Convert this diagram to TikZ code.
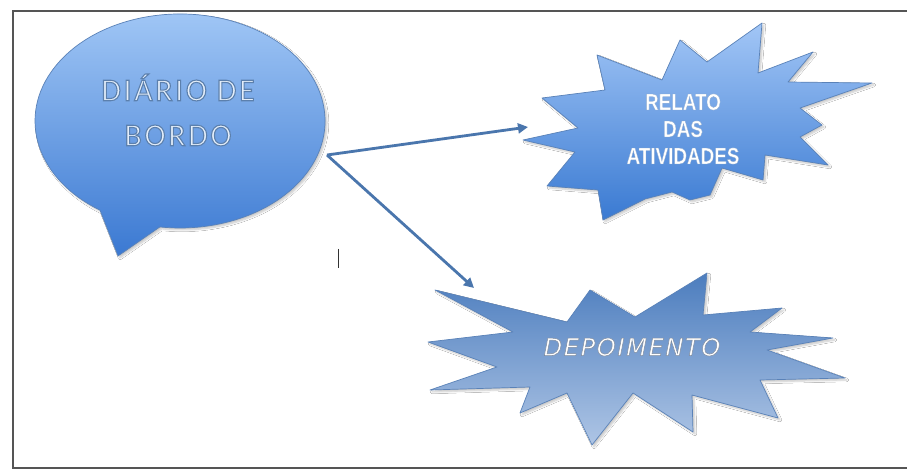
\documentclass[tikz,border=0pt]{standalone}
\usepackage{fontspec}
\usetikzlibrary{arrows.meta,shadows.blur}
\newfontfamily\diariofont[LetterSpace=8]{Carlito}
\newfontfamily\relatofont[FakeStretch=0.82,FakeBold=1.2]{Liberation Sans}
\newfontfamily\depofont[LetterSpace=7]{DejaVu Sans}
\definecolor{bubtop}{HTML}{A5CAF7}
\definecolor{bubbot}{HTML}{3B79D2}
\definecolor{s1top}{HTML}{A2C6F6}
\definecolor{s1bot}{HTML}{3A7AD2}
\definecolor{s2top}{HTML}{4C7DBE}
\definecolor{s2bot}{HTML}{AEC5E5}
\definecolor{edgeblue}{HTML}{5A82B8}
\definecolor{arrowblue}{HTML}{4A76AD}
\definecolor{framegray}{HTML}{555555}
\definecolor{txtlight}{HTML}{E4EEFA}
\newcommand\strokedtext[3]{\special{pdf:literal direct 2 Tr #2 w #3 RG}#1\special{pdf:literal direct 0 Tr}}
\tikzset{
  shapeedge/.style={draw=edgeblue, line width=0.7pt, line join=round},
  softshadow/.style={blur shadow={shadow xshift=2pt, shadow yshift=-2pt, shadow opacity=22, shadow blur steps=6}},
  link/.style={draw=arrowblue, line width=2.8pt, -{Triangle[length=10pt,width=10pt]}},
}
\begin{document}
\begin{tikzpicture}[x=1pt,y=-1pt]
\useasboundingbox (0,0) rectangle (907,470);
\fill[white] (0,0) rectangle (907,470);
% frame
\draw[framegray, line width=1.6pt] (907,11) -- (13,11) -- (13,468) -- (907,468);
% speech bubble
\path[shapeedge, softshadow, top color=bubtop, bottom color=bubbot]
  (100,210.2) arc[start angle=123.5, end angle=458, x radius=145, y radius=107]
  -- (118,256) -- cycle;
\node[font=\diariofont\fontsize{32}{45}\selectfont, text=txtlight, align=center] (diario) at (178,110)
  {\strokedtext{DIÁRIO DE}{1.1}{0.36 0.50 0.68}\\\strokedtext{BORDO}{1.1}{0.36 0.50 0.68}};
% star 1
\path[shapeedge, softshadow, top color=s1top, bottom color=s1bot]
  (523,140) -- (578,128) -- (542,98) -- (605,90) -- (597,55) -- (662,80) -- (680,40)
  -- (707,62) -- (762,23) -- (758,73) -- (813,52) -- (788,82) -- (872,83)
  -- (800,108) -- (822,125) -- (800,137) -- (828,165) -- (765,155) -- (763,180)
  -- (722,168) -- (710,195) -- (690,200) -- (672,192) -- (645,199) -- (603,220)
  -- (598,190) -- (547,186) -- (575,152) -- cycle;
\node[font=\relatofont\bfseries\fontsize{23}{27}\selectfont, text=white, align=center] (relato) at (683,129)
  {\strokedtext{RELATO}{0.4}{0.55 0.66 0.8}\\\strokedtext{DAS}{0.4}{0.55 0.66 0.8}\\\strokedtext{ATIVIDADES}{0.4}{0.55 0.66 0.8}};
% star 2
\path[shapeedge, softshadow, top color=s2top, bottom color=s2bot]
  (435,290) -- (567,322) -- (590,290) -- (635,317) -- (707,273) -- (703,315)
  -- (782,308) -- (750,332) -- (833,338) -- (767,350) -- (845,378) -- (760,380)
  -- (778,418) -- (692,395) -- (693,432) -- (633,393) -- (592,445) -- (567,393)
  -- (520,413) -- (530,387) -- (430,390) -- (497,367) -- (428,342) -- (513,332) -- cycle;
\node[font=\depofont\itshape\fontsize{24}{26}\selectfont, text=white] (depo) at (632,347)
  {\strokedtext{DEPOIMENTO}{0.5}{0.5 0.55 0.62}};
% connectors
\coordinate (src) at (327,155);
\coordinate (t1) at (528,127);
\coordinate (t2) at (474,288);
\draw[link] (src) -- (t1);
\draw[link] (src) -- (t2);
% text cursor
\coordinate (cur1) at (338,249);
\coordinate (cur2) at (338,268);
\draw[black!80, line width=1pt] (cur1) -- (cur2);
\end{tikzpicture}
\end{document}
